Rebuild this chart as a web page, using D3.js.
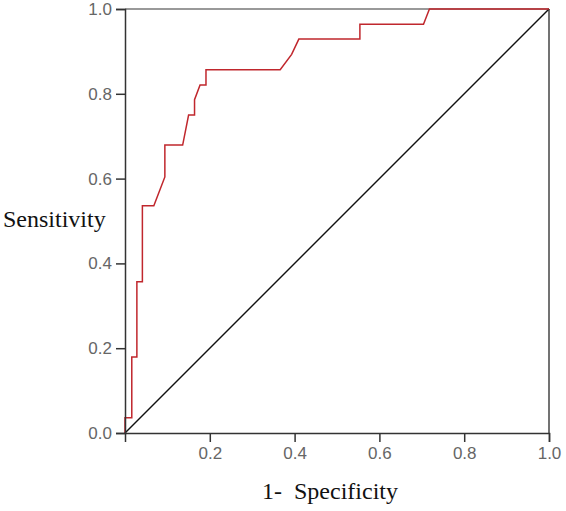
<!DOCTYPE html>
<html><head><meta charset="utf-8">
<script src="https://cdn.jsdelivr.net/npm/d3@7"></script>
<style>body{margin:0;background:#fff}svg{display:block}
.tk{font-family:'Liberation Sans',Arial,sans-serif;font-size:17px}
.ttl{font-family:'Liberation Serif','Times New Roman',serif;font-size:24px}
</style>
</head><body>
<script>
// ROC curve points (1 - specificity, sensitivity)
const fpr = [0, 0, 0.016, 0.016, 0.028, 0.028, 0.041, 0.041, 0.068, 0.094, 0.094, 0.136, 0.150, 0.164, 0.164, 0.177, 0.191, 0.191, 0.366, 0.393, 0.410, 0.554, 0.554, 0.704, 0.718, 1.0];
const tpr = [0, 0.036, 0.036, 0.179, 0.179, 0.357, 0.357, 0.536, 0.536, 0.604, 0.679, 0.679, 0.750, 0.750, 0.786, 0.821, 0.821, 0.857, 0.857, 0.893, 0.929, 0.929, 0.964, 0.964, 1.0, 1.0];
const xTicks = [0.2, 0.4, 0.6, 0.8, 1.0];
const yTicks = [0.0, 0.2, 0.4, 0.6, 0.8, 1.0];
const xTitle = "1-\u00a0\u00a0Specificity";
const yTitle = "Sensitivity";

const W = 566, H = 511;
const m = {left: 125, top: 9, right: 17, bottom: 78};
const iw = W - m.left - m.right, ih = H - m.top - m.bottom;

const svg = d3.select("body").append("svg").attr("width", W).attr("height", H);
const g = svg.append("g").attr("transform", `translate(${m.left},${m.top})`);

const x = d3.scaleLinear().domain([0, 1]).range([0, iw]);
const y = d3.scaleLinear().domain([0, 1]).range([ih, 0]);

// frame top and right
g.append("line").attr("x1", 0).attr("x2", iw).attr("y1", 0).attr("y2", 0)
  .attr("stroke", "#777").attr("stroke-width", 1.5);
g.append("line").attr("x1", iw).attr("x2", iw).attr("y1", 0).attr("y2", ih)
  .attr("stroke", "#444").attr("stroke-width", 1.5);

// diagonal reference
g.append("line").attr("x1", x(0)).attr("y1", y(0)).attr("x2", x(1)).attr("y2", y(1))
  .attr("stroke", "#111").attr("stroke-width", 1.4);

// ROC line
const pts = fpr.map((v, i) => [v, tpr[i]]);
g.append("path").datum(pts)
  .attr("d", d3.line().x(d => x(d[0])).y(d => y(d[1])))
  .attr("fill", "none").attr("stroke", "#c0272d").attr("stroke-width", 1.5);

// axes
const xAxis = g.append("g").attr("transform", `translate(0,${ih})`)
  .call(d3.axisBottom(x).tickValues(xTicks).tickFormat(d3.format(".1f")).tickSizeOuter(0).tickSize(9).tickPadding(5));
const yAxis = g.append("g")
  .call(d3.axisLeft(y).tickValues(yTicks).tickFormat(d3.format(".1f")).tickSizeOuter(0).tickSize(9).tickPadding(4));
[xAxis, yAxis].forEach(a => {
  a.attr("font-family", null).attr("font-size", null);
  a.select(".domain").attr("stroke", "#333").attr("stroke-width", 1.5);
  a.selectAll(".tick line").attr("stroke", "#333").attr("stroke-width", 1.5);
  a.selectAll(".tick text").attr("class", "tk").attr("fill", "#666");
});

svg.append("text").attr("class", "ttl").attr("x", 3).attr("y", 227).text(yTitle).attr("fill", "#111");
svg.append("text").attr("class", "ttl").attr("x", 330).attr("y", 499).attr("text-anchor", "middle").text(xTitle).attr("fill", "#111");
</script>
</body></html>
